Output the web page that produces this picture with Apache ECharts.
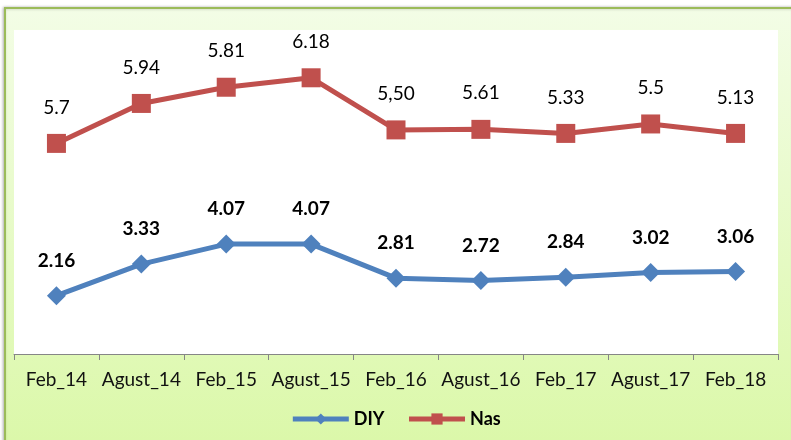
<!DOCTYPE html>
<html lang="en">
<head>
    <meta charset="UTF-8">
    <title>DIY / Nas</title>
    <style>
        html, body { margin: 0; padding: 0; background: #fff; }
        #chart { width: 791px; height: 440px; }
    </style>
</head>
<body>
<div id="chart"></div>
<script src="https://cdn.jsdelivr.net/npm/echarts@6/dist/echarts.min.js"></script>
<script>

    var categories = ['Feb_14', 'Agust_14', 'Feb_15', 'Agust_15', 'Feb_16', 'Agust_16', 'Feb_17', 'Agust_17', 'Feb_18'];

    var diyValues = [2.16, 3.33, 4.07, 4.07, 2.81, 2.72, 2.84, 3.02, 3.06];

    // Nas points sit where they are drawn in the picture, the labels carry the printed numbers
    var nasLevels = [7.80, 9.28, 9.88, 10.23, 8.30, 8.32, 8.17, 8.52, 8.17];
    var nasLabels = ['5.7', '5.94', '5.81', '6.18', '5,50', '5.61', '5.33', '5.5', '5.13'];

    var FONT = 'Lato, "Open Sans", sans-serif';

    var chart = echarts.init(document.getElementById('chart'));

    var option = {
        animation: false,
        graphic: [{
            type: 'rect',
            z: -100,
            silent: true,
            shape: { x: 5, y: 8, width: 790, height: 436 },
            style: {
                fill: new echarts.graphic.LinearGradient(0, 0, 0, 1, [
                    { offset: 0, color: '#f3fde6' },
                    { offset: 1, color: '#dbf8a9' }
                ]),
                stroke: '#9bbb59',
                lineWidth: 2,
                shadowColor: 'rgba(0,0,0,0.25)',
                shadowBlur: 3,
                shadowOffsetX: -1
            }
        }],
        grid: {
            left: 14,
            right: 13,
            top: 30,
            bottom: 86,
            show: true,
            backgroundColor: '#ffffff',
            borderWidth: 0
        },
        legend: {
            bottom: 7,
            left: 'center',
            itemWidth: 56,
            itemHeight: 14,
            itemGap: 22,
            lineStyle: { width: 5 },
            textStyle: {
                fontFamily: FONT,
                fontSize: 18,
                fontWeight: 'bold',
                color: '#000'
            },
            data: ['DIY', 'Nas']
        },
        xAxis: {
            type: 'category',
            data: categories,
            boundaryGap: true,
            axisLine: { lineStyle: { color: '#868686', width: 1 } },
            axisTick: { show: true, length: 6, lineStyle: { color: '#868686' } },
            axisLabel: {
                margin: 16,
                fontFamily: FONT,
                fontSize: 19,
                color: '#111',
                interval: 0
            },
            splitLine: { show: false }
        },
        yAxis: {
            type: 'value',
            min: 0,
            max: 12,
            show: false,
            splitLine: { show: false }
        },
        series: [
            {
                name: 'DIY',
                type: 'line',
                data: diyValues,
                symbol: 'diamond',
                symbolSize: 19,
                color: '#4f81bd',
                lineStyle: { width: 5, color: '#4f81bd' },
                itemStyle: { color: '#4f81bd' },
                label: {
                    show: true,
                    position: 'top',
                    distance: 16,
                    fontFamily: FONT,
                    fontSize: 19,
                    fontWeight: 'bold',
                    color: '#000',
                    formatter: function (p) { return p.value.toFixed(2); }
                }
            },
            {
                name: 'Nas',
                type: 'line',
                data: nasLevels,
                symbol: 'rect',
                symbolSize: 19,
                color: '#c0504d',
                lineStyle: { width: 5, color: '#c0504d' },
                itemStyle: { color: '#c0504d' },
                label: {
                    show: true,
                    position: 'top',
                    distance: 17,
                    fontFamily: FONT,
                    fontSize: 19,
                    color: '#000',
                    formatter: function (p) { return nasLabels[p.dataIndex]; }
                }
            }
        ]
    };

    chart.setOption(option);

</script>
</body>
</html>
